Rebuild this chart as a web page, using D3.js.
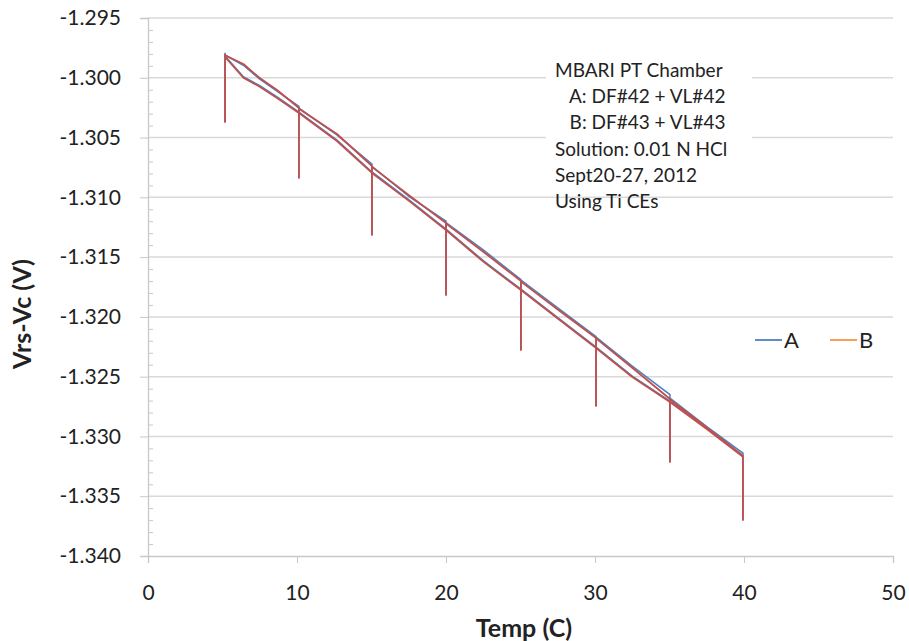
<!DOCTYPE html>
<html>
<head>
<meta charset="utf-8">
<script src="https://cdn.jsdelivr.net/npm/d3@7"></script>
<style>
  html, body { margin: 0; padding: 0; background: #fff; }
  svg { display: block; font-family: Lato, "Open Sans", sans-serif; }
</style>
</head>
<body>
<svg id="chart" width="909" height="641"></svg>
<script>
// ---------- data ----------
const seriesNames = ["A", "B"];
const seriesColors = ["#4f81bd", "#c0504d"];
const legendColors = ["#4f81bd", "#f79646"];

// Series A (Temp in C, Vrs-Vc in V): heating path with spikes, then return path
const tempA = [5.17, 5.17, 5.17, 6.4, 7.5, 8.66, 10.13, 10.13, 10.13, 12.68, 15.03, 15.03, 15.03, 17.58, 20.0, 20.0, 20.0, 22.5, 25.03, 25.03, 25.03, 27.5, 30.07, 30.07, 30.07, 32.5, 35.03, 35.03, 35.03, 37.5, 39.93, 39.93, 39.93,
               37.5, 35.03, 32.5, 30.07, 27.5, 25.03, 22.5, 20.0, 17.58, 15.03, 12.68, 10.13, 8.66, 7.5, 6.4, 5.17];
const voltA = [-1.29790, -1.30365, -1.29810, -1.29895, -1.30012, -1.30112, -1.30240, -1.30830, -1.30255, -1.30478, -1.30722, -1.31305, -1.30742, -1.30998, -1.31200, -1.31810, -1.31212, -1.31440, -1.31688, -1.32270, -1.31692, -1.31925, -1.32165, -1.32740, -1.32170, -1.32412, -1.32650, -1.33200, -1.32680, -1.32918, -1.33140, -1.33690, -1.33160,
               -1.32930, -1.32704, -1.32495, -1.32252, -1.32006, -1.31768, -1.31530, -1.31265, -1.31028, -1.30788, -1.30521, -1.30287, -1.30161, -1.30067, -1.29992, -1.29818];

// Series B
const tempB = [5.17, 5.17, 5.17, 6.4, 7.5, 8.66, 10.13, 10.13, 10.13, 12.68, 15.03, 15.03, 15.03, 17.58, 20.0, 20.0, 20.0, 22.5, 25.03, 25.03, 25.03, 27.5, 30.07, 30.07, 30.07, 32.5, 35.03, 35.03, 35.03, 37.5, 39.93, 39.93, 39.93,
               37.5, 35.03, 32.5, 30.07, 27.5, 25.03, 22.5, 20.0, 17.58, 15.03, 12.68, 10.13, 8.66, 7.5, 6.4, 5.17];
const voltB = [-1.29801, -1.30370, -1.29812, -1.29885, -1.30002, -1.30102, -1.30253, -1.30838, -1.30260, -1.30470, -1.30738, -1.31315, -1.30745, -1.30989, -1.31215, -1.31817, -1.31220, -1.31455, -1.31700, -1.32277, -1.31705, -1.31938, -1.32176, -1.32745, -1.32180, -1.32425, -1.32687, -1.33214, -1.32690, -1.32925, -1.33163, -1.33699, -1.33170,
               -1.32938, -1.32712, -1.32503, -1.32260, -1.32014, -1.31775, -1.31538, -1.31273, -1.31036, -1.30796, -1.30529, -1.30295, -1.30169, -1.30075, -1.30000, -1.29826];

const xTicks = [0, 10, 20, 30, 40, 50];
const yTicks = [-1.295, -1.300, -1.305, -1.310, -1.315, -1.320, -1.325, -1.330, -1.335, -1.340];
const yMinorStep = 0.001;

const xTitle = "Temp (C)";
const yTitle = "Vrs-Vc (V)";
const noteLines = ["MBARI PT Chamber", "   A: DF#42 + VL#42", "   B: DF#43 + VL#43", "Solution: 0.01 N HCl", "Sept20-27, 2012", "Using Ti CEs"];

// ---------- layout ----------
const svg = d3.select("#chart");
const plot = { left: 148, right: 893, top: 18, bottom: 556 };
const x = d3.scaleLinear().domain([0, 50]).range([plot.left, plot.right]);
const y = d3.scaleLinear().domain([-1.340, -1.295]).range([plot.bottom, plot.top]);

const textColor = "#222";
const axisColor = "#c8c8c8";
const gridColor = "#d9d9d9";

// gridlines
svg.append("g").selectAll("line").data(yTicks.filter(d => d !== -1.340)).join("line")
  .attr("x1", plot.left).attr("x2", plot.right)
  .attr("y1", d => y(d)).attr("y2", d => y(d))
  .attr("stroke", gridColor).attr("stroke-width", 1.5);

// minor ticks on the y axis (inside)
const minorVals = d3.range(0, 46).map(i => -1.340 + i * yMinorStep)
  .filter(v => !yTicks.some(t => Math.abs(t - v) < 1e-7));
const yMinor = svg.append("g").attr("transform", `translate(${plot.left},0)`)
  .call(d3.axisRight(y).tickValues(minorVals).tickSize(5).tickFormat(""));
yMinor.select(".domain").remove();
yMinor.selectAll("line").attr("stroke", axisColor);

// y axis
const yAxis = svg.append("g").attr("transform", `translate(${plot.left},0)`)
  .call(d3.axisLeft(y).tickValues(yTicks).tickSize(8).tickPadding(19).tickFormat(d => d.toFixed(3)));
yAxis.select(".domain").attr("stroke", axisColor).attr("stroke-width", 1.3);
yAxis.selectAll("line").attr("stroke", axisColor);
yAxis.selectAll("text").attr("font-size", 21).attr("fill", textColor).attr("font-family", "Lato, sans-serif");

// x axis
const xAxis = svg.append("g").attr("transform", `translate(0,${plot.bottom})`)
  .call(d3.axisBottom(x).tickValues(xTicks).tickSize(7).tickFormat(d3.format("d")));
xAxis.select(".domain").attr("stroke", axisColor).attr("stroke-width", 1.3);
xAxis.selectAll("line").attr("stroke", axisColor);
xAxis.selectAll("text").attr("font-size", 21).attr("fill", textColor)
  .attr("font-family", "Lato, sans-serif").attr("y", 44).attr("dy", 0);

// series lines
const line = d3.line().x(d => x(d[0])).y(d => y(d[1]));
const seriesData = [
  d3.zip(tempA, voltA),
  d3.zip(tempB, voltB)
];
svg.append("g").selectAll("path").data(seriesData).join("path")
  .attr("d", d => line(d))
  .attr("fill", "none")
  .attr("stroke", (d, i) => seriesColors[i])
  .attr("stroke-width", (d, i) => i === 0 ? 1.6 : 1.8)
  .attr("stroke-linejoin", "round");

// annotation box
const note = svg.append("g");
note.append("rect").attr("x", 546).attr("y", 57).attr("width", 206).attr("height", 136).attr("fill", "#fff");
note.selectAll("text").data(noteLines).join("text")
  .attr("x", 555).attr("y", (d, i) => 77 + i * 26.2)
  .attr("font-size", 19).attr("fill", textColor)
  .attr("xml:space", "preserve").style("white-space", "pre")
  .text(d => d);

// legend
const legend = svg.append("g");
const legX = [755, 830];
seriesNames.forEach((name, i) => {
  legend.append("line").attr("x1", legX[i]).attr("x2", legX[i] + 27)
    .attr("y1", 340).attr("y2", 340)
    .attr("stroke", legendColors[i]).attr("stroke-width", 1.8);
  legend.append("text").attr("x", legX[i] + 29).attr("y", 348)
    .attr("font-size", 22).attr("fill", textColor).text(name);
});

// axis titles
svg.append("text").attr("x", 524).attr("y", 637).attr("text-anchor", "middle")
  .attr("font-size", 25).attr("font-weight", "bold").attr("fill", textColor).text(xTitle);
svg.append("text").attr("transform", "translate(31,314) rotate(-90)").attr("text-anchor", "middle")
  .attr("font-size", 25).attr("font-weight", "bold").attr("fill", textColor).text(yTitle);
</script>
</body>
</html>
